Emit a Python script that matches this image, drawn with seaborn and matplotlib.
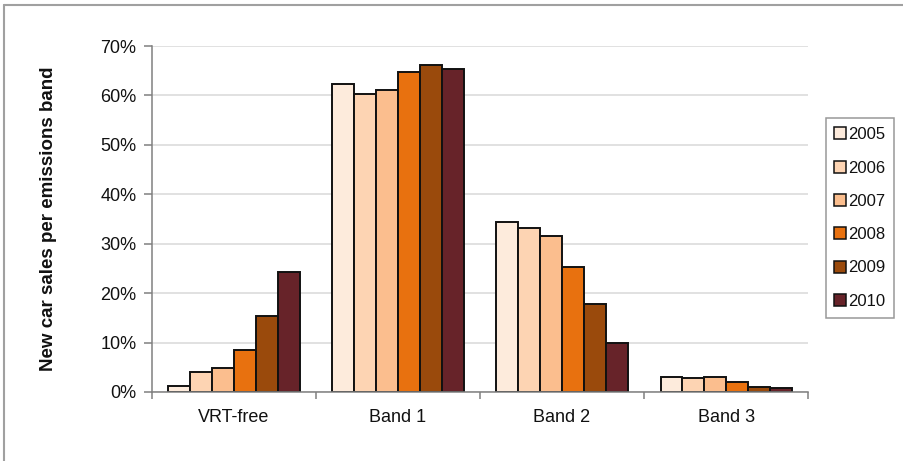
import matplotlib
matplotlib.use("Agg")
import matplotlib.pyplot as plt
from matplotlib.lines import Line2D
from matplotlib.ticker import PercentFormatter, FixedLocator
import seaborn as sns
import pandas as pd

# Share of new car sales by VRT emissions band, per year (%)
bands = ["VRT-free", "Band 1", "Band 2", "Band 3"]
years = ["2005", "2006", "2007", "2008", "2009", "2010"]
share_2005 = [1.2, 62.3, 34.3, 3.0]
share_2006 = [4.1, 60.3, 33.2, 2.8]
share_2007 = [4.8, 61.1, 31.5, 3.0]
share_2008 = [8.4, 64.7, 25.3, 2.0]
share_2009 = [15.4, 66.1, 17.9, 1.1]
share_2010 = [24.3, 65.3, 10.0, 0.9]
year_colors = ["#FDEBDC", "#FDD4B3", "#FBBE8E", "#E8710F", "#9A4A0C", "#672329"]

series = [share_2005, share_2006, share_2007, share_2008, share_2009, share_2010]
df = pd.DataFrame(
    [(b, y, v) for y, vals in zip(years, series) for b, v in zip(bands, vals)],
    columns=["band", "year", "share"],
)

sns.set_theme(style="white")
plt.rcParams["font.family"] = ["Liberation Sans", "DejaVu Sans"]

fig = plt.figure(figsize=(9.04, 4.61), dpi=100)
ax = fig.add_axes([0.168, 0.1497, 0.726, 0.7505])

sns.barplot(
    data=df, x="band", y="share", hue="year", order=bands, hue_order=years,
    palette=year_colors, edgecolor="#111111", linewidth=1.4, width=0.8,
    saturation=1, ax=ax, legend=False,
)

ax.set_ylim(0, 70)
ax.set_xlim(-0.5, len(bands) - 0.5)
ax.yaxis.set_major_locator(FixedLocator(range(0, 71, 10)))
ax.yaxis.set_major_formatter(PercentFormatter(decimals=0))
ax.grid(axis="y", color="#d9d9d9", linewidth=1.1)
ax.set_axisbelow(True)

for side in ("top", "right"):
    ax.spines[side].set_visible(False)
for side in ("left", "bottom"):
    ax.spines[side].set_color("#808080")
    ax.spines[side].set_linewidth(1.1)

# category separators as minor ticks on the x axis
ax.set_xticks([i - 0.5 for i in range(len(bands) + 1)], minor=True)
ax.tick_params(axis="x", which="minor", length=5, width=1.1, color="#808080",
               direction="out", bottom=True)
ax.tick_params(axis="x", which="major", length=0, pad=12, labelsize=13,
               labelcolor="#111111")
ax.tick_params(axis="y", length=6, width=1.1, color="#808080", direction="out",
               left=True, labelsize=13, pad=5, labelcolor="#111111")
ax.set_xlabel("")
ax.set_ylabel("New car sales per emissions band", fontsize=13.5,
              fontweight="bold", color="#111111")
ax.yaxis.set_label_coords((57 - 152) / 656, 0.5)

handles = [
    Line2D([0], [0], marker="s", linestyle="none", markersize=8,
           markerfacecolor=c, markeredgecolor="#111111", markeredgewidth=1.1)
    for c in year_colors
]
leg = fig.legend(handles, years, loc="upper left",
                 bbox_to_anchor=(826 / 904, 1 - 118 / 461),
                 frameon=True, fancybox=False, fontsize=12,
                 handlelength=0.6, handletextpad=0.15, labelspacing=1.1,
                 borderpad=0.55, borderaxespad=0)
leg.get_frame().set_edgecolor("#808080")
leg.get_frame().set_linewidth(1.1)
for t in leg.get_texts():
    t.set_color("#111111")

# outer frame lines on the top and left edges
fig.add_artist(Line2D([4 / 904, 1], [1 - 5 / 461, 1 - 5 / 461],
                      transform=fig.transFigure, color="#a0a0a0", linewidth=1.5))
fig.add_artist(Line2D([4 / 904, 4 / 904], [0, 1 - 5 / 461],
                      transform=fig.transFigure, color="#a0a0a0", linewidth=1.5))

fig.savefig("out.png", dpi=100, facecolor="white")
